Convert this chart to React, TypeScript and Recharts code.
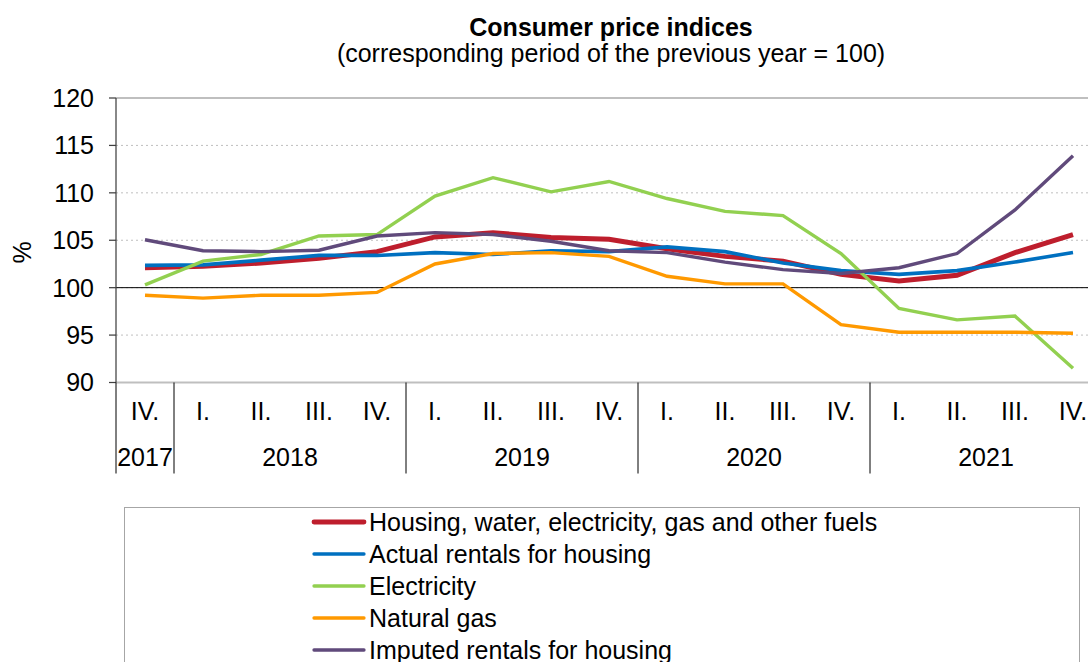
import { LineChart, Line, XAxis, YAxis, CartesianGrid, ReferenceLine, Legend } from "recharts";

const QUARTERS = ["IV.", "I.", "II.", "III.", "IV.", "I.", "II.", "III.", "IV.", "I.", "II.", "III.", "IV.", "I.", "II.", "III.", "IV."];
const YEARS = ["2017", "2018", "2018", "2018", "2018", "2019", "2019", "2019", "2019", "2020", "2020", "2020", "2020", "2021", "2021", "2021", "2021"];

const housing = [102.1, 102.25, 102.6, 103.1, 103.8, 105.35, 105.8, 105.3, 105.1, 104.1, 103.3, 102.8, 101.4, 100.7, 101.3, 103.7, 105.6];
const actualRentals = [102.35, 102.4, 102.9, 103.4, 103.4, 103.7, 103.5, 103.9, 103.8, 104.3, 103.8, 102.6, 101.8, 101.4, 101.8, 102.7, 103.7];
const electricity = [100.3, 102.8, 103.5, 105.45, 105.6, 109.65, 111.6, 110.1, 111.2, 109.4, 108.05, 107.6, 103.6, 97.8, 96.6, 97.0, 91.5];
const naturalGas = [99.2, 98.9, 99.2, 99.2, 99.5, 102.5, 103.6, 103.7, 103.3, 101.2, 100.4, 100.4, 96.1, 95.3, 95.3, 95.3, 95.2];
const imputedRentals = [105.05, 103.9, 103.8, 103.95, 105.45, 105.8, 105.6, 104.9, 103.9, 103.7, 102.7, 101.9, 101.5, 102.1, 103.6, 108.2, 113.9];

const Y_TICKS = [90, 95, 100, 105, 110, 115, 120];

const SERIES = [
  { key: "housing", name: "Housing, water, electricity, gas and other fuels", color: "#BE1E2D", width: 5 },
  { key: "actual", name: "Actual rentals for housing", color: "#0070C0", width: 3.6 },
  { key: "electricity", name: "Electricity", color: "#92D050", width: 3.4 },
  { key: "gas", name: "Natural gas", color: "#FF9900", width: 3.4 },
  { key: "imputed", name: "Imputed rentals for housing", color: "#604A7B", width: 3.4 },
];

const data = QUARTERS.map((q, i) => ({
  label: `${q} ${YEARS[i]}`,
  housing: housing[i],
  actual: actualRentals[i],
  electricity: electricity[i],
  gas: naturalGas[i],
  imputed: imputedRentals[i],
}));

const FONT = '"Liberation Sans", Arial, sans-serif';
const FS = 25;
const CHART_W = 1102;
const CHART_H = 662;
const Y_AXIS_W = 116;
const BAND = (CHART_W - Y_AXIS_W) / QUARTERS.length;
const X_AXIS_H = 91;

// two-row category axis: quarter row, year row, year dividers
const QuarterYearTick = (props: any) => {
  const { x, y, payload } = props;
  const i = payload.index;
  const yr = YEARS[i];
  const first = YEARS.indexOf(yr);
  const n = YEARS.filter((v) => v === yr).length;
  const groupCenter = x + (first + (n - 1) / 2 - i) * BAND;
  return (
    <g>
      <text x={x} y={y + 29} dy="0.355em" textAnchor="middle" fontSize={FS} fill="#000" fontFamily={FONT}>
        {QUARTERS[i]}
      </text>
      {i === first && (
        <>
          <line x1={x - BAND / 2} x2={x - BAND / 2} y1={y} y2={y + X_AXIS_H} stroke="#000" strokeWidth={1} />
          <text x={groupCenter} y={y + 75} dy="0.355em" textAnchor="middle" fontSize={FS} fill="#000" fontFamily={FONT}>
            {yr}
          </text>
        </>
      )}
    </g>
  );
};

const renderLegend = () => (
  <div
    style={{
      border: "1px solid #A6A6A6",
      boxSizing: "border-box",
      width: 956,
      height: 200,
      background: "#fff",
      paddingLeft: 186,
      fontFamily: FONT,
    }}
  >
    <div style={{ marginTop: -2 }}>
      {SERIES.map((s) => (
        <div key={s.key} style={{ display: "flex", alignItems: "center", height: 32 }}>
          <svg width={58} height={12} style={{ display: "block" }}>
            <line x1={3} x2={53} y1={6} y2={6} stroke={s.color} strokeWidth={s.width === 5 ? 4.8 : 3.3} strokeLinecap="round" />
          </svg>
          <span style={{ fontSize: FS, color: "#000", whiteSpace: "nowrap" }}>{s.name}</span>
        </div>
      ))}
    </div>
  </div>
);

const PercentLabel = (props: any) => {
  const vb = props.viewBox || {};
  const cx = (vb.x || 0) + 22;
  const cy = (vb.y || 0) + vb.height / 2 + 12;
  return (
    <text x={cx} y={cy} dy="0.355em" textAnchor="middle" transform={`rotate(-90 ${cx} ${cy})`} fontSize={FS} fill="#000" fontFamily={FONT}>
      %
    </text>
  );
};

export default function App() {
  return (
    <div style={{ position: "absolute", left: 0, top: 0, width: 1088, height: 662, overflow: "hidden", background: "#fff", fontFamily: FONT }}>
      <div style={{ position: "absolute", left: 0, width: 1222, top: 12, textAlign: "center", fontSize: FS, fontWeight: "bold", lineHeight: "30px" }}>
        Consumer price indices
      </div>
      <div style={{ position: "absolute", left: 0, width: 1222, top: 38, textAlign: "center", fontSize: FS, lineHeight: "30px" }}>
        (corresponding period of the previous year = 100)
      </div>
      <LineChart
        width={CHART_W}
        height={CHART_H}
        data={data}
        margin={{ top: 98, right: 0, bottom: CHART_H - 98 - 284.5 - X_AXIS_H, left: 0 }}
      >
        <CartesianGrid horizontal vertical={false} stroke="#BFBFBF" strokeDasharray="2 3" />
        <XAxis
          dataKey="label"
          scale="band"
          interval={0}
          tickLine={false}
          tickSize={0}
          tickMargin={0}
          height={X_AXIS_H}
          axisLine={{ stroke: "#BFBFBF", strokeWidth: 2 }}
          tick={<QuarterYearTick />}
        />
        <YAxis
          domain={[90, 120]}
          ticks={Y_TICKS}
          interval={0}
          width={Y_AXIS_W}
          tickSize={7}
          tickMargin={15}
          axisLine={{ stroke: "#404040", strokeWidth: 1.25 }}
          tickLine={{ stroke: "#404040", strokeWidth: 1.25 }}
          tick={{ fontSize: FS, fill: "#000", fontFamily: FONT }}
          label={<PercentLabel />}
        />
        <ReferenceLine y={100} stroke="#000" strokeWidth={1} />
        <ReferenceLine y={120} stroke="#BFBFBF" strokeWidth={2} />
        {SERIES.map((s) => (
          <Line
            key={s.key}
            type="linear"
            dataKey={s.key}
            name={s.name}
            stroke={s.color}
            strokeWidth={s.width}
            dot={false}
            activeDot={false}
            isAnimationActive={false}
          />
        ))}
        <Legend
          layout="vertical"
          verticalAlign="middle"
          align="center"
          wrapperStyle={{ left: 124, top: 507, width: 956, height: 200 }}
          content={renderLegend}
        />
      </LineChart>
    </div>
  );
}
